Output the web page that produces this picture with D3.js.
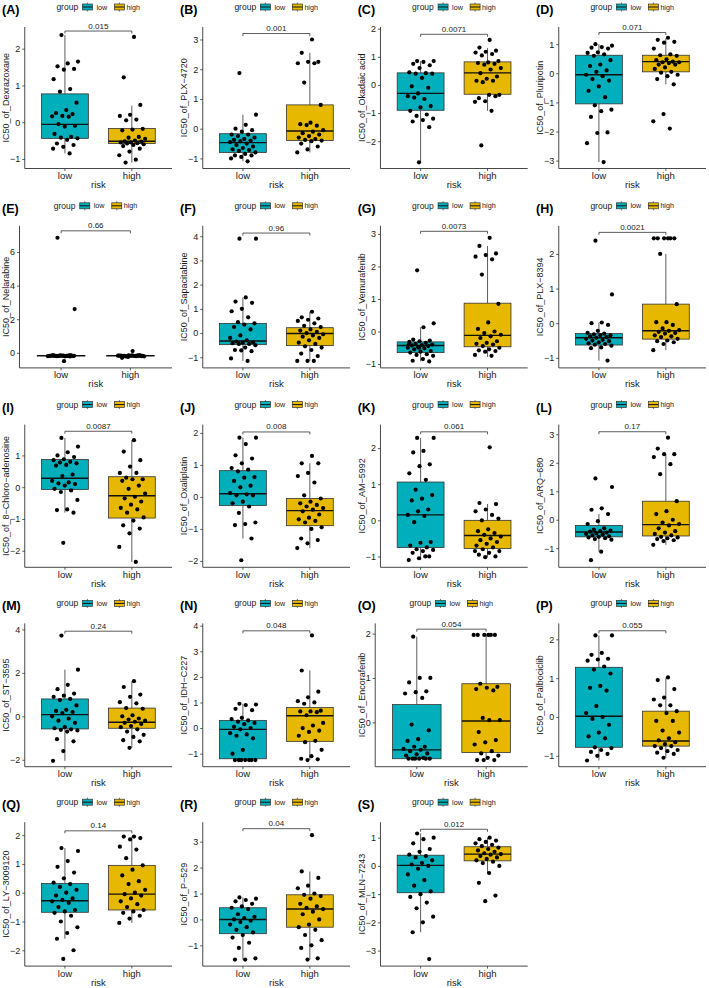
<!DOCTYPE html>
<html><head><meta charset="utf-8">
<script src="https://cdn.jsdelivr.net/npm/d3@7"></script>
<style>body{margin:0;background:#fff}svg{display:block;font-family:"Liberation Sans",Arial,sans-serif}</style>
</head><body>
<svg id="chart" width="709" height="988"></svg>
<script>
const panelLabels = ["(A)","(B)","(C)","(D)","(E)","(F)","(G)","(H)","(I)","(J)","(K)","(L)","(M)","(N)","(O)","(P)","(Q)","(R)","(S)"];
const drugs = ["Dexrazoxane","PLX−4720","Okadaic acid","Pluripotin","Nelarabine","Sapacitabine","Vemurafenib","PLX−8394","8−Chloro−adenosine","Oxaliplatin","AM−5992","ARQ−680","ST−3595","IDH−C227","Encorafenib","Palbociclib","LY−3009120","P−529","MLN−7243"];
const pValues = ["0.015","0.001","0.0071","0.071","0.66","0.96","0.0073","0.0021","0.0087","0.008","0.061","0.17","0.24","0.048","0.054","0.055","0.14","0.04","0.012"];
const categories = ["low","high"];
const groupColors = ["#00AFBB","#E7B800"];

const lowValues = [
 [2.37,1.65,1.6,1.52,1.45,1.43,1.17,0.9,0.83,0.53,0.33,0.25,0.22,0.17,0.16,0.15,-0.05,-0.1,-0.12,-0.32,-0.4,-0.42,-0.44,-0.48,-0.58,-0.62,-0.67,-0.72,-0.85],
 [1.87,0.47,0.13,0.0,-0.05,-0.1,-0.2,-0.2,-0.25,-0.3,-0.35,-0.38,-0.4,-0.42,-0.45,-0.5,-0.55,-0.6,-0.65,-0.7,-0.72,-0.75,-0.8,-0.85,-0.9,-0.9,-0.95,-1.0,-1.1],
 [0.85,0.85,0.82,0.75,0.7,0.6,0.45,0.42,0.4,0.4,0.25,-0.05,-0.1,-0.3,-0.4,-0.5,-0.45,-0.75,-0.8,-0.92,-1.05,-1.1,-1.2,-1.25,-1.3,-1.5,-2.75],
 [1.0,0.95,0.9,0.88,0.85,0.72,0.7,0.65,0.6,0.45,0.3,0.25,0.1,0.05,-0.05,-0.1,-0.2,-0.25,-0.45,-0.6,-0.82,-1.1,-1.25,-1.3,-1.5,-2.03,-2.05,-2.4,-3.05],
 [6.85,2.6,-0.5,-0.15,-0.16,-0.17,-0.18,-0.18,-0.19,-0.2,-0.18,-0.17,-0.16,-0.19,-0.2,-0.21,-0.18,-0.17,-0.15,-0.18,-0.19,-0.2,-0.18,-0.17,-0.16,-0.22,-0.18],
 [3.9,3.9,1.47,1.3,1.25,1.0,0.9,0.65,0.45,0.4,0.35,0.25,0.15,-0.1,-0.2,-0.3,-0.35,-0.38,-0.4,-0.42,-0.45,-0.45,-0.5,-0.6,-0.7,-0.75,-0.72,-1.05,-1.15],
 [1.88,0.25,0.13,-0.25,-0.28,-0.3,-0.32,-0.35,-0.38,-0.4,-0.42,-0.43,-0.45,-0.48,-0.5,-0.52,-0.55,-0.6,-0.62,-0.65,-0.7,-0.72,-0.75,-0.85,-0.9,-0.92,-0.5,-0.4],
 [2.38,0.83,0.02,0.0,-0.05,-0.22,-0.28,-0.3,-0.32,-0.35,-0.35,-0.38,-0.4,-0.42,-0.45,-0.48,-0.5,-0.52,-0.55,-0.58,-0.6,-0.62,-0.65,-0.7,-0.72,-1.08],
 [1.55,1.28,1.1,1.0,0.95,0.88,0.85,0.8,0.78,0.75,0.7,0.68,0.4,0.35,0.2,0.15,0.12,0.1,0.05,-0.05,-0.1,-0.15,-0.4,-0.7,-0.72,-0.8,-1.75],
 [1.85,1.85,1.65,1.3,1.2,1.05,0.9,0.85,0.8,0.62,0.6,0.5,0.35,0.3,0.12,0.08,0.05,0.05,-0.15,-0.2,-0.3,-0.5,-0.8,-0.85,-0.88,-1.3,-1.98],
 [2.28,2.28,1.92,1.88,1.55,1.5,1.3,1.12,0.85,0.7,0.6,0.55,0.3,0.25,0.15,0.12,-0.05,-0.6,-0.62,-0.7,-0.75,-0.8,-0.82,-0.85,-0.9,-1.0,-1.05,-1.1,-1.0],
 [1.45,1.15,0.4,0.35,0.2,-0.05,-0.15,-0.3,-0.35,-0.38,-0.4,-0.42,-0.45,-0.48,-0.5,-0.52,-0.55,-0.58,-0.6,-0.62,-0.65,-0.68,-0.7,-1.12,-1.42],
 [3.72,2.15,1.45,1.25,1.05,0.95,0.9,0.8,0.75,0.5,0.3,0.25,0.2,0.15,0.0,-0.1,-0.2,-0.3,-0.5,-0.55,-0.6,-0.62,-0.65,-0.7,-1.05,-1.15,-1.6,-2.05],
 [0.95,0.92,0.9,0.75,0.7,0.4,0.35,0.3,0.25,0.2,0.15,0.05,0.0,-0.05,-0.2,-0.25,-0.3,-0.4,-0.85,-1.0,-1.25,-1.25,-1.25,-1.25,-1.25,-1.25,-1.25],
 [1.93,1.0,1.0,0.9,0.7,0.68,0.65,0.55,-0.05,-0.18,-0.38,-0.42,-0.55,-0.55,-0.6,-0.62,-0.65,-0.7,-0.72,-0.75,-0.8,-0.82,-0.82,-0.82,-0.82,-0.82,-0.82],
 [2.1,2.1,1.65,1.6,1.5,1.48,1.45,1.3,1.22,1.12,0.8,0.75,0.68,0.28,0.1,0.0,-0.05,-0.2,-0.4,-0.5,-0.55,-0.78,-0.8,-0.85,-0.9,-0.95,-1.0,-1.12],
 [1.55,1.45,1.1,0.9,0.7,0.5,0.35,0.3,0.2,0.1,0.0,-0.1,-0.2,-0.25,-0.3,-0.35,-0.5,-0.6,-0.65,-0.7,-0.8,-1.0,-1.2,-1.4,-1.6,-2.0,-2.3],
 [0.85,0.8,0.75,0.7,0.6,0.5,0.45,0.4,0.2,0.1,0.05,0.0,-0.05,-0.1,-0.2,-0.3,-0.4,-0.5,-0.6,-0.7,-0.9,-1.1,-1.5,-1.55,-1.55],
 [1.15,1.0,0.95,0.8,0.6,0.5,0.4,0.35,0.3,0.2,0.1,0.05,0.0,-0.1,-0.3,-0.5,-0.7,-0.9,-1.0,-1.1,-1.3,-1.5,-1.8,-2.0,-2.35,-3.3]
];
const highValues = [
 [2.32,1.22,0.47,0.2,0.17,0.07,0.05,-0.18,-0.2,-0.22,-0.4,-0.42,-0.45,-0.5,-0.52,-0.53,-0.55,-0.55,-0.57,-0.58,-0.6,-0.62,-0.65,-0.72,-0.8,-0.9,-1.02,-1.1],
 [3.0,2.55,2.25,2.25,2.2,2.2,1.55,0.8,0.2,0.15,0.1,0.12,-0.05,-0.1,-0.15,-0.2,-0.25,-0.3,-0.35,-0.38,-0.4,-0.42,-0.5,-0.6,-0.7,-0.8],
 [1.6,1.33,1.22,1.18,1.15,1.1,1.05,0.85,0.8,0.78,0.75,0.72,0.6,0.55,0.42,0.3,0.22,0.15,0.15,0.1,-0.35,-0.35,-0.47,-0.4,-0.58,-0.6,-0.92,-2.15],
 [1.22,1.15,1.08,1.05,0.85,0.65,0.62,0.6,0.48,0.45,0.4,0.38,0.38,0.35,0.3,0.3,0.2,0.15,0.05,0.02,-0.05,-0.1,-0.2,-0.38,-1.4,-1.65,-1.9],
 [0.1,-0.3,-0.15,-0.16,-0.17,-0.18,-0.19,-0.2,-0.18,-0.17,-0.16,-0.2,-0.21,-0.18,-0.19,-0.15,-0.18,-0.17,-0.2,-0.22,-0.18,-0.16,-0.19,-0.18,-0.25],
 [0.88,0.65,0.6,0.55,0.5,0.4,0.3,0.25,0.15,0.1,0.05,0.0,-0.05,-0.1,-0.15,-0.2,-0.3,-0.4,-0.45,-0.55,-0.6,-0.7,-0.85,-0.95,-1.15,-1.15,-1.15],
 [2.88,2.63,2.4,2.35,2.3,2.22,1.75,0.85,0.28,0.08,0.0,-0.05,-0.1,-0.15,-0.2,-0.3,-0.35,-0.38,-0.4,-0.45,-0.5,-0.55,-0.58,-0.6,-0.62,-0.72,-0.75],
 [2.45,2.45,2.45,2.45,2.45,2.45,2.0,0.55,0.03,0.03,-0.05,-0.15,-0.2,-0.22,-0.25,-0.28,-0.3,-0.35,-0.38,-0.4,-0.45,-0.5,-0.52,-0.55,-0.6,-0.78],
 [1.48,1.12,0.85,0.65,0.45,0.45,0.3,0.25,0.25,0.2,0.05,-0.05,-0.2,-0.3,-0.35,-0.45,-0.55,-0.65,-0.7,-0.8,-0.95,-1.05,-1.2,-1.3,-1.45,-1.88,-2.35],
 [1.28,1.05,1.05,0.75,0.65,0.45,0.05,-0.05,-0.15,-0.2,-0.25,-0.3,-0.35,-0.4,-0.45,-0.55,-0.65,-0.7,-0.75,-0.8,-0.95,-1.0,-1.3,-1.35,-1.45,-1.6],
 [2.02,0.48,0.45,0.3,0.25,0.15,0.0,0.05,-0.25,-0.3,-0.35,-0.4,-0.45,-0.5,-0.55,-0.6,-0.65,-0.7,-0.75,-0.8,-0.85,-0.9,-0.95,-1.0,-1.02,-0.85],
 [2.88,2.5,2.3,2.3,2.2,1.95,1.6,0.65,0.3,0.2,0.0,-0.1,-0.15,-0.2,-0.3,-0.4,-0.45,-0.5,-0.55,-0.6,-0.62,-0.65,-0.68,-0.72,-0.75,-0.88],
 [1.62,1.35,1.0,0.9,0.65,0.6,0.38,0.35,0.05,0.0,-0.1,-0.15,-0.2,-0.25,-0.3,-0.35,-0.45,-0.5,-0.6,-0.7,-0.85,-0.95,-1.1,-1.15,-1.45],
 [3.62,2.25,1.42,1.2,1.05,1.0,0.95,0.68,0.65,0.65,0.62,0.5,0.2,0.1,0.0,-0.1,-0.15,-0.3,-0.5,-0.55,-0.85,-1.1,-1.2,-1.22,-1.25],
 [1.97,1.97,1.97,1.97,1.97,1.97,0.87,0.8,0.78,0.75,0.72,0.1,0.05,0.05,-0.22,-0.4,-0.45,-0.5,-0.65,-0.7,-0.75,-0.8,-0.85,-0.85,-0.85],
 [1.02,0.95,0.72,0.5,0.45,0.3,0.3,0.15,0.1,-0.1,-0.1,-0.35,-0.4,-0.55,-0.6,-0.65,-0.7,-0.75,-0.75,-0.8,-0.85,-0.88,-0.92,-0.95,-1.05],
 [1.95,1.95,1.9,1.85,1.6,1.5,1.2,0.95,0.8,0.6,0.4,0.3,0.1,0.0,-0.05,-0.1,-0.2,-0.3,-0.4,-0.5,-0.6,-0.65,-0.7,-0.8,-0.9,-1.05],
 [3.25,1.85,1.6,1.3,1.2,1.0,0.95,0.9,0.8,0.6,0.5,0.45,0.4,0.3,0.2,0.0,-0.2,-0.3,-0.4,-0.6,-0.8,-1.0,-1.1,-1.5,-1.55],
 [1.0,0.95,0.9,0.85,0.8,0.75,0.7,0.65,0.6,0.55,0.5,0.45,0.42,0.4,0.35,0.3,0.25,0.2,0.15,0.1,0.0,-0.25,-0.6,-1.05,-1.25]
];
// box stats: [lower whisker, Q1, median, Q3, upper whisker]
const lowBoxStats = [
 [-0.85,-0.44,-0.06,0.77,2.37],[-1.1,-0.8,-0.47,-0.17,0.47],[-2.75,-0.9,-0.3,0.43,0.85],[-3.05,-1.05,-0.05,0.62,1.0],
 [-0.18,-0.18,-0.18,-0.18,-0.18],[-1.15,-0.48,-0.33,0.4,1.47],[-0.92,-0.65,-0.43,-0.32,0.13],[-1.08,-0.63,-0.42,-0.3,0.02],
 [-0.8,-0.07,0.28,0.87,1.55],[-1.3,-0.27,0.1,0.82,1.85],[-1.1,-0.75,0.15,1.06,2.28],[-1.12,-0.6,-0.43,-0.2,0.2],
 [-2.05,-0.58,0.08,0.8,2.15],[-1.25,-1.2,-0.05,0.3,0.95],[-0.83,-0.82,-0.62,0.4,1.93],[-1.12,-0.78,0.02,1.28,2.1],
 [-1.6,-0.68,-0.28,0.32,1.55],[-1.55,-0.55,0.0,0.45,0.85],[-2.35,-0.95,0.02,0.38,1.15]
];
const highBoxStats = [
 [-1.1,-0.58,-0.52,-0.17,0.45],[-0.8,-0.4,-0.08,0.8,2.55],[-0.92,-0.33,0.43,0.82,1.31],[-0.38,0.05,0.4,0.62,1.2],
 [-0.18,-0.18,-0.18,-0.18,-0.18],[-1.15,-0.52,-0.02,0.22,0.88],[-0.78,-0.47,-0.12,0.87,2.63],[-0.78,-0.46,-0.22,0.55,2.0],
 [-2.35,-0.97,-0.27,0.33,1.48],[-1.6,-0.9,-0.43,-0.05,1.05],[-1.02,-0.78,-0.42,0.0,0.45],[-0.88,-0.57,-0.17,0.65,2.3],
 [-1.45,-0.55,-0.27,0.38,1.6],[-1.25,-0.52,0.48,0.8,2.25],[-0.85,-0.68,0.03,0.87,1.97],[-1.05,-0.75,-0.62,0.15,1.0],
 [-1.05,-0.6,-0.05,0.95,1.95],[-1.55,-0.3,0.4,0.95,1.85],[-0.25,0.18,0.42,0.68,1.0]
];
const yDomains = [
 [-1.26,2.59],[-1.34,3.42],[-2.97,2.06],[-3.27,1.59],
 [-0.9,7.56],[-1.44,4.43],[-1.12,3.25],[-1.29,2.81],
 [-2.52,1.97],[-2.2,2.26],[-1.3,2.65],[-1.67,3.34],
 [-2.32,4.28],[-1.51,4.09],[-1.0,2.23],[-1.28,2.41],
 [-2.55,2.45],[-1.8,3.75],[-3.55,1.55]
];
const yTicks = [
 [-1,0,1,2],[-1,0,1,2,3],[-2,-1,0,1,2],[-3,-2,-1,0,1],
 [0,2,4,6],[-1,0,1,2,3,4],[-1,0,1,2,3],[-1,0,1,2],
 [-2,-1,0,1],[-2,-1,0,1,2],[-1,0,1,2],[-1,0,1,2,3],
 [-2,0,2,4],[-1,0,1,2,3,4],[0,1,2],[-1,0,1,2],
 [-2,-1,0,1,2],[-1,0,1,2,3],[-3,-2,-1,0,1]
];
const bracketValues = [2.48,3.2,1.8,1.4,7.26,4.13,3.08,2.62,1.76,2.03,2.45,3.09,3.92,3.8,2.1,2.22,2.15,3.5,1.3];

const svg = d3.select("#chart");
svg.append("rect").attr("width",709).attr("height",988).attr("fill","#fff");
const colX = [0,178,355.7,534];
const rowH = 198.8;
const FONT = '"Liberation Sans",Arial,sans-serif';
const ctx = document.createElement("canvas").getContext("2d");
ctx.font = "9px " + FONT;
const fmt = d => d3.format("d")(d).replace("-","−");
const ink = "#1a1a1a", line = "#333";

drugs.forEach((drug, i) => {
  const col = i % 4, row = Math.floor(i / 4);
  const cx0 = colX[col], ry = row * rowH;
  const maxW = d3.max(yTicks[i], t => ctx.measureText(fmt(t)).width);
  const left = cx0 + 14.5 + maxW, right = cx0 + 172;
  const top = ry + 27, bottom = ry + 168.5 + row * 0.6;
  const g = svg.append("g");

  // ggplot discrete scale: positions 1,2 in [0.4,2.6]
  const unit = (right - left) / 2.2;
  const xPos = k => left + (0.6 + k) * unit;
  const y = d3.scaleLinear().domain(yDomains[i]).range([bottom, top]);

  // panel label
  g.append("text").attr("x", cx0 + 2).attr("y", ry + 14).attr("font-size", 12.5).attr("font-weight", "bold")
    .attr("fill", "#000").attr("font-family", FONT).text(panelLabels[i]);

  // legend
  const lc = (left + right) / 2, ly = ry + 7;
  const lg = g.append("g").attr("font-family", FONT);
  lg.append("text").attr("x", lc - 42).attr("y", ly + 3).attr("font-size", 8.5).attr("fill", ink).text("group");
  [[lc - 16, 0, "low", lc - 2], [lc + 16, 1, "high", lc + 28]].forEach(([kx, ci, lab, tx]) => {
    lg.append("line").attr("x1", kx + 5).attr("x2", kx + 5).attr("y1", ly - 4.5).attr("y2", ly + 4.5).attr("stroke", line).attr("stroke-width", 0.7);
    lg.append("rect").attr("x", kx).attr("y", ly - 3).attr("width", 10).attr("height", 6)
      .attr("fill", groupColors[ci]).attr("stroke", line).attr("stroke-width", 0.7);
    lg.append("line").attr("x1", kx).attr("x2", kx + 10).attr("y1", ly).attr("y2", ly).attr("stroke", "#111").attr("stroke-width", 1);
    lg.append("text").attr("x", tx).attr("y", ly + 2.6).attr("font-size", 7.2).attr("fill", ink).text(lab);
  });

  // boxes
  const bw = 0.7 * unit;
  [lowBoxStats[i], highBoxStats[i]].forEach((s, k) => {
    const cx = xPos(k);
    g.append("line").attr("x1", cx).attr("x2", cx).attr("y1", y(s[0])).attr("y2", y(s[1])).attr("stroke", line).attr("stroke-width", 0.8);
    g.append("line").attr("x1", cx).attr("x2", cx).attr("y1", y(s[3])).attr("y2", y(s[4])).attr("stroke", line).attr("stroke-width", 0.8);
    g.append("rect").attr("x", cx - bw / 2).attr("width", bw).attr("y", y(s[3])).attr("height", Math.max(0, y(s[1]) - y(s[3])))
      .attr("fill", groupColors[k]).attr("stroke", line).attr("stroke-width", 0.8);
    g.append("line").attr("x1", cx - bw / 2).attr("x2", cx + bw / 2).attr("y1", y(s[2])).attr("y2", y(s[2])).attr("stroke", "#111").attr("stroke-width", 1.4);
  });

  // jittered points
  [lowValues[i], highValues[i]].forEach((vals, k) => {
    const cx = xPos(k);
    g.selectAll(null).data(vals).enter().append("circle")
      .attr("cx", (d, j) => cx + (((j * 0.6180339 + 0.37 + k * 0.21) % 1) - 0.5) * 0.4 * unit)
      .attr("cy", d => y(d)).attr("r", 2.1).attr("fill", "#000");
  });

  // axes
  const yAxis = d3.axisLeft(y).tickValues(yTicks[i]).tickFormat(fmt).tickSize(2.5).tickPadding(2);
  const ya = g.append("g").attr("transform", `translate(${left},0)`).call(yAxis);
  ya.select(".domain").attr("d", `M0,${top}V${bottom}`).attr("stroke", line).attr("stroke-width", 0.9);
  ya.selectAll(".tick line").attr("stroke", line).attr("stroke-width", 0.8);
  ya.selectAll(".tick text").attr("font-size", 9).attr("font-family", FONT).attr("fill", ink);

  const xa = g.append("g").attr("transform", `translate(0,${bottom})`);
  xa.append("line").attr("x1", left).attr("x2", right).attr("stroke", line).attr("stroke-width", 0.9);
  categories.forEach((c, k) => {
    xa.append("line").attr("x1", xPos(k)).attr("x2", xPos(k)).attr("y1", 0).attr("y2", 2.5).attr("stroke", line).attr("stroke-width", 0.8);
    xa.append("text").attr("x", xPos(k)).attr("y", 10.5).attr("text-anchor", "middle").attr("font-size", 9.5)
      .attr("font-family", FONT).attr("fill", ink).text(c);
  });
  g.append("text").attr("x", (left + right) / 2).attr("y", bottom + 19.5).attr("text-anchor", "middle").attr("font-size", 9.5)
    .attr("font-family", FONT).attr("fill", ink).text("risk");
  g.append("text").attr("transform", `translate(${cx0 + 9},${(top + bottom) / 2}) rotate(-90)`).attr("text-anchor", "middle")
    .attr("font-size", 9).attr("font-family", FONT).attr("fill", ink).text("IC50_of_" + drug);

  // comparison bracket
  const by = y(bracketValues[i]);
  g.append("path").attr("d", `M${xPos(0)},${by + 2.5}V${by}H${xPos(1)}V${by + 2.5}`).attr("fill", "none").attr("stroke", line).attr("stroke-width", 0.8);
  g.append("text").attr("x", (xPos(0) + xPos(1)) / 2).attr("y", by - 2.5).attr("text-anchor", "middle").attr("font-size", 8)
    .attr("font-family", FONT).attr("fill", ink).text(pValues[i]);
});
</script>
</body></html>
